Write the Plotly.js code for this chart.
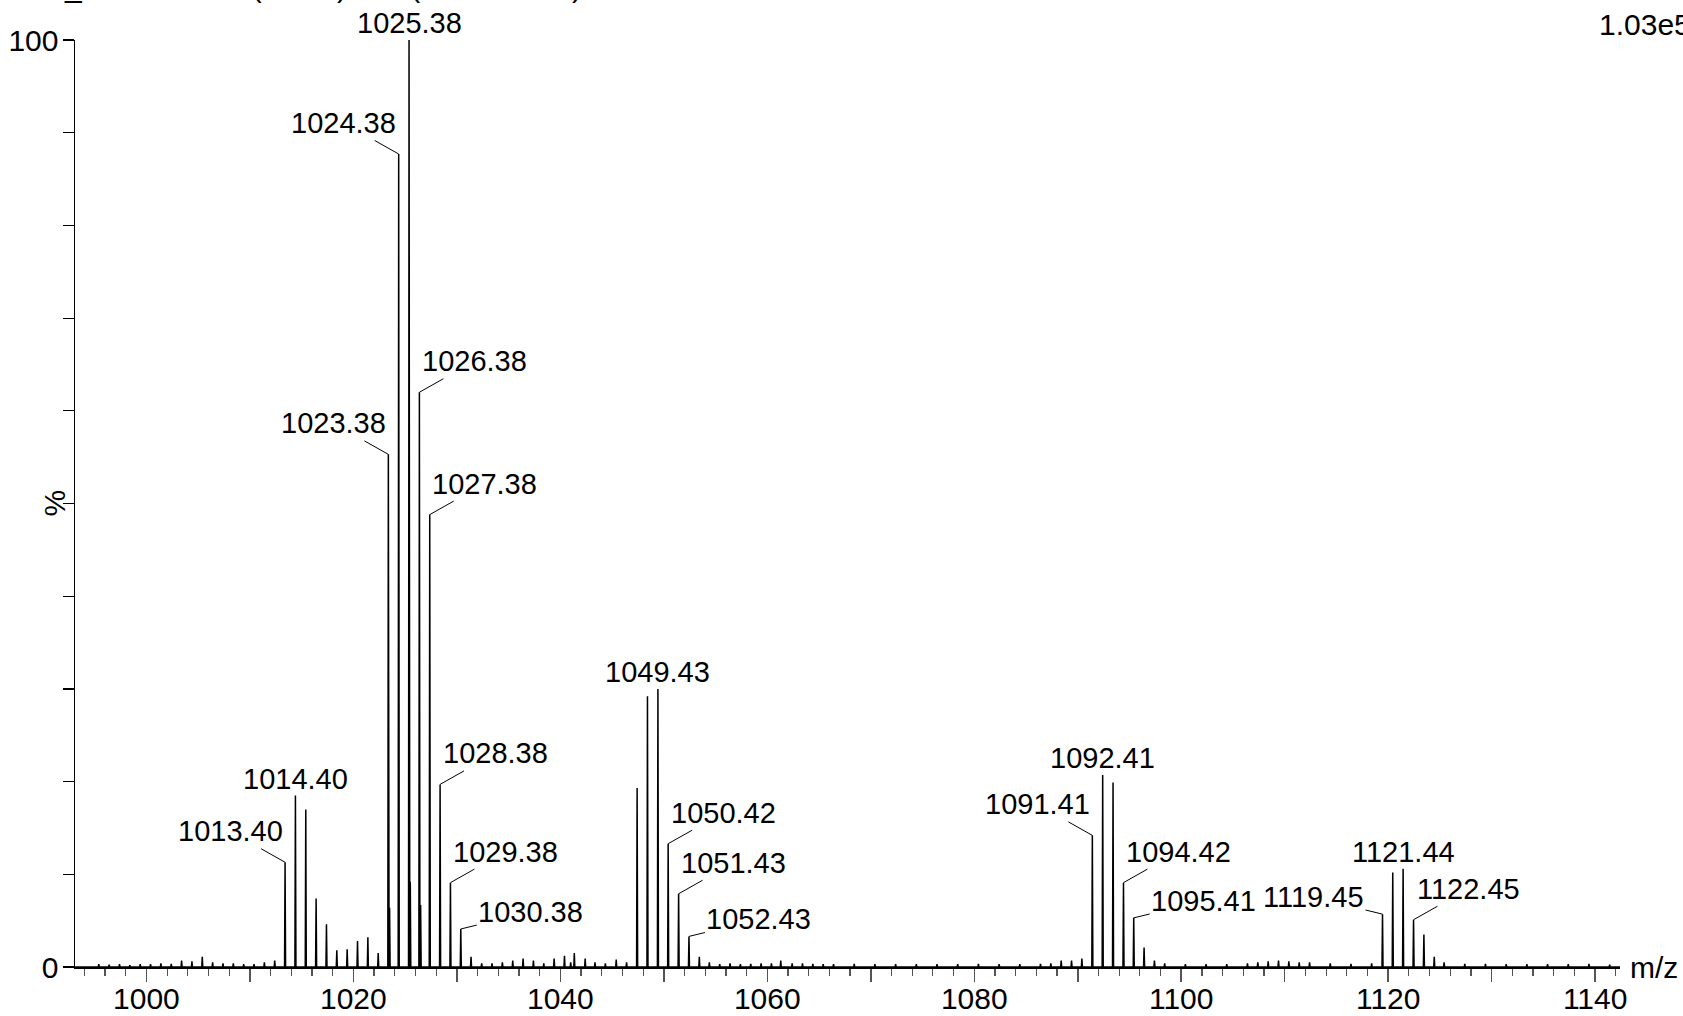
<!DOCTYPE html>
<html>
<head>
<meta charset="utf-8">
<script src="https://cdn.plot.ly/plotly-3.0.1.min.js"></script>
<style>
  html, body { margin: 0; padding: 0; background: #fff; }
  #spectrum { width: 1683px; height: 1016px; }
</style>
</head>
<body>
<div id="spectrum"></div>
<script>
// centroid peaks (m/z, relative intensity %)
let peakMz = [
    995.4, 996.4, 997.4, 998.4, 999.4, 1000.4, 1001.4, 1002.4, 1003.4, 1004.4,
    1005.4, 1006.4, 1007.4, 1008.4, 1009.4, 1010.4, 1011.4, 1012.4,
    1013.40, 1014.40, 1015.40, 1016.40, 1017.40, 1018.40, 1019.40, 1020.40,
    1021.40, 1022.40, 1023.38, 1023.50, 1024.38, 1025.38, 1025.50, 1026.38,
    1026.50, 1027.38, 1028.38, 1029.38, 1030.38, 1031.37,
    1032.4, 1033.4, 1034.4, 1035.4, 1036.4, 1037.4, 1038.4, 1039.4, 1040.4,
    1041.0, 1041.35, 1042.4, 1043.35, 1044.35, 1045.4, 1046.4,
    1047.42, 1048.42, 1049.43, 1050.42, 1051.43, 1052.43, 1053.43,
    1054.4, 1055.4, 1056.4, 1057.4, 1058.4, 1059.4, 1060.4, 1061.3, 1062.4,
    1063.4, 1064.4, 1065.4, 1066.4, 1068.4, 1070.4, 1072.4, 1074.4, 1076.4,
    1078.4, 1080.4, 1082.4, 1084.4, 1086.4, 1087.4, 1088.4, 1089.40, 1090.40,
    1091.41, 1092.41, 1093.41, 1094.42, 1095.41, 1096.41, 1097.41,
    1098.4, 1100.4, 1102.4, 1104.4, 1106.4, 1107.4, 1108.4, 1109.4, 1110.4,
    1111.4, 1112.4, 1114.4, 1116.4, 1118.4,
    1119.45, 1120.44, 1121.44, 1122.45, 1123.45, 1124.45,
    1125.4, 1127.4, 1129.4, 1131.4, 1133.4, 1135.4, 1137.4, 1139.4, 1141.4
];
let peakPct = [
    0.3, 0.25, 0.3, 0.2, 0.3, 0.3, 0.4, 0.35, 0.7, 0.6,
    1.1, 0.5, 0.4, 0.4, 0.3, 0.3, 0.5, 0.7,
    11.3, 18.5, 17.0, 7.4, 4.6, 1.8, 1.9, 2.8,
    3.2, 1.5, 55.3, 6.4, 87.7, 100, 9.2, 62.0,
    6.7, 48.8, 19.7, 9.1, 4.1, 1.1,
    0.4, 0.4, 0.5, 0.7, 0.9, 0.7, 0.4, 0.9, 1.2,
    0.5, 1.5, 0.9, 0.5, 0.4, 0.8, 0.5,
    19.3, 29.2, 30.0, 13.3, 7.9, 3.3, 1.1,
    0.5, 0.3, 0.4, 0.3, 0.35, 0.4, 0.4, 0.7, 0.4,
    0.4, 0.35, 0.3, 0.3, 0.35, 0.3, 0.3, 0.3, 0.3,
    0.3, 0.35, 0.3, 0.3, 0.35, 0.4, 0.7, 0.7, 0.9,
    14.2, 20.7, 19.9, 9.1, 5.3, 2.1, 0.7,
    0.4, 0.3, 0.3, 0.3, 0.4, 0.5, 0.6, 0.7, 0.6,
    0.5, 0.5, 0.4, 0.35, 0.4,
    5.7, 10.2, 10.6, 5.1, 3.5, 1.1,
    0.5, 0.35, 0.35, 0.3, 0.3, 0.3, 0.3, 0.35, 0.25
];

// labelled peaks
let labelMz = [
    1013.40, 1014.40, 1023.38, 1024.38, 1025.38, 1026.38, 1027.38, 1028.38,
    1029.38, 1030.38, 1049.43, 1050.42, 1051.43, 1052.43, 1091.41, 1092.41,
    1094.42, 1095.41, 1119.45, 1121.44, 1122.45
];

let xTickVals = [1000, 1010, 1020, 1030, 1040, 1050, 1060, 1070, 1080, 1090, 1100, 1110, 1120, 1130, 1140];
let xTickText = ['1000', '', '1020', '', '1040', '', '1060', '', '1080', '', '1100', '', '1120', '', '1140'];
let yTickVals = [0, 10, 20, 30, 40, 50, 60, 70, 80, 90, 100];
let yTickText = ['0', '', '', '', '', '', '', '', '', '', '100'];

let headerText = 'AB_S10325 150 (2.718) Cm (148:152-20)';
let maxIntensity = '1.03e5';

let xMin = 993.1;
let xMax = 1142.4;

// stick profile: each centroid becomes a narrow spike on the baseline
let order = peakMz.map((m, i) => i).sort((a, b) => peakMz[a] - peakMz[b]);
let xs = [xMin];
let ys = [0];
const HALF = 0.05;
order.forEach(i => {
    xs.push(peakMz[i] - HALF, peakMz[i], peakMz[i] + HALF);
    ys.push(0, peakPct[i], 0);
});
xs.push(xMax);
ys.push(0);

let trace = {
    type: 'scatter',
    mode: 'lines',
    x: xs,
    y: ys,
    line: { color: '#000', width: 1.5 },
    hoverinfo: 'skip',
    cliponaxis: false
};

// where each label sits relative to its peak
let placement = {
    1013.40: 'L', 1014.40: 'T', 1023.38: 'L', 1024.38: 'L', 1025.38: 'T',
    1026.38: 'R', 1027.38: 'R', 1028.38: 'R', 1029.38: 'R', 1030.38: 'RL',
    1049.43: 'T', 1050.42: 'R', 1051.43: 'R', 1052.43: 'RL',
    1091.41: 'L', 1092.41: 'T', 1094.42: 'R', 1095.41: 'RL',
    1119.45: 'LL', 1121.44: 'T', 1122.45: 'R'
};
let offsets = {
    L: [-55, -31],
    R: [55, -31],
    RL: [70, -17],
    LL: [-69, -17]
};

let labelFont = { family: 'Liberation Sans, Arial, sans-serif', size: 29, color: '#000' };
let bigFont = { family: 'Liberation Sans, Arial, sans-serif', size: 30, color: '#000' };

let annotations = labelMz.map(m => {
    let h = peakPct[peakMz.indexOf(m)];
    let where = placement[m];
    if (where === 'T') {
        return {
            x: m, y: h, xref: 'x', yref: 'y',
            text: m.toFixed(2), showarrow: false,
            xanchor: 'center', yanchor: 'bottom', yshift: -1,
            font: labelFont
        };
    }
    return {
        x: m, y: h, xref: 'x', yref: 'y',
        text: m.toFixed(2), showarrow: true,
        arrowhead: 0, arrowwidth: 1, arrowcolor: '#000', standoff: 0,
        ax: offsets[where][0], ay: offsets[where][1],
        font: labelFont
    };
});

annotations.push(
    {
        x: 0, y: 1, xref: 'paper', yref: 'paper',
        xanchor: 'left', yanchor: 'bottom', xshift: -52, yshift: 35,
        text: headerText, showarrow: false, font: bigFont
    },
    {
        x: 0.985, y: 1, xref: 'paper', yref: 'paper',
        xanchor: 'left', yanchor: 'bottom', yshift: -3,
        text: maxIntensity, showarrow: false, font: bigFont
    },
    {
        x: 1, y: 0, xref: 'paper', yref: 'paper',
        xanchor: 'left', yanchor: 'middle', xshift: 8,
        text: 'm/z', showarrow: false, font: bigFont
    },
    {
        x: 0, y: 0.5, xref: 'paper', yref: 'paper',
        xanchor: 'center', yanchor: 'middle', xshift: -21,
        text: '%', textangle: -90, showarrow: false, font: bigFont
    }
);

let layout = {
    width: 1683,
    height: 1016,
    margin: { l: 75, r: 63, t: 40, b: 49 },
    paper_bgcolor: '#fff',
    plot_bgcolor: '#fff',
    showlegend: false,
    font: bigFont,
    xaxis: {
        range: [xMin, xMax],
        showgrid: false,
        zeroline: false,
        showline: true,
        linecolor: '#000',
        linewidth: 1.5,
        tickmode: 'array',
        tickvals: xTickVals,
        ticktext: xTickText,
        ticks: 'outside',
        ticklen: 13,
        tickwidth: 1.5,
        tickcolor: '#555',
        tickfont: bigFont,
        ticklabelstandoff: -9,
        minor: { tick0: 1000, dtick: 2, ticks: 'outside', ticklen: 7, tickwidth: 1.2, tickcolor: '#555', showgrid: false }
    },
    yaxis: {
        range: [0, 100],
        showgrid: false,
        zeroline: false,
        showline: true,
        linecolor: '#000',
        linewidth: 1.5,
        tickmode: 'array',
        tickvals: yTickVals,
        ticktext: yTickText,
        ticks: 'outside',
        ticklen: 11,
        tickwidth: 1.2,
        tickcolor: '#000',
        tickfont: bigFont,
        ticklabelstandoff: -2
    },
    annotations: annotations
};

Plotly.newPlot('spectrum', [trace], layout, { staticPlot: true, displayModeBar: false });
</script>
</body>
</html>
